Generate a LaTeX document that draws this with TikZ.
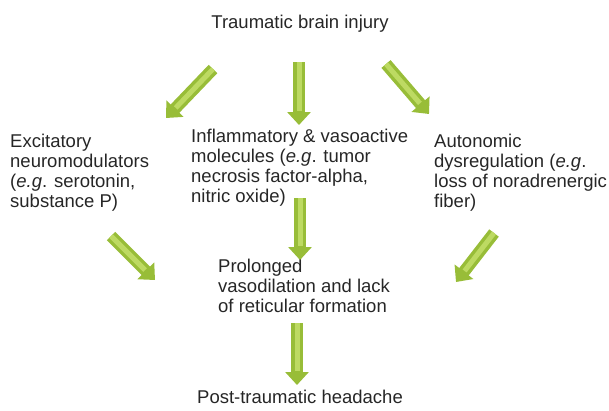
\documentclass[tikz,border=0pt]{standalone}
\usepackage{fontspec}
\setmainfont{Liberation Sans}
\usetikzlibrary{arrows.meta}
\definecolor{tbgreen}{HTML}{98BD38}
\definecolor{tblight}{HTML}{BDDA62}
\definecolor{tbtext}{HTML}{262626}

\begin{document}
\begin{tikzpicture}[x=1pt, y=-1pt,
  txt/.style={inner sep=0pt, align=left, text=tbtext,
              font=\fontsize{18.5}{20}\selectfont},
  flow/.style={draw=tbgreen, line width=12pt,
               -{Triangle[width=23pt,length=13pt]},
               postaction={draw=tblight, line width=5pt, -, shorten >=14pt}}
]
\useasboundingbox (0,0) rectangle (609,410);

% Text blocks
\node[txt, anchor=north] (injury) at (300,15) {Traumatic brain injury};
\node[txt, anchor=north west] (excit) at (10,134)
  {Excitatory\\neuromodulators\\(\emph{e.g}. serotonin,\\substance P)};
\node[txt, anchor=north west] (inflam) at (191,129)
  {Inflammatory \& vasoactive\\molecules (\emph{e.g}. tumor\\necrosis factor-alpha,\\nitric oxide)};
\node[txt, anchor=north west] (auton) at (434,134)
  {Autonomic\\dysregulation (\emph{e.g}.\\loss of noradrenergic\\fiber)};
\node[txt, anchor=north west] (prolong) at (218,259)
  {Prolonged\\vasodilation and lack\\of reticular formation};
\node[txt, anchor=north] (headache) at (300,390) {Post-traumatic headache};

% Arrow ends
\coordinate (inj-l) at (213,69);  \coordinate (exc-t) at (166,118);
\coordinate (inj-m) at (299,62);  \coordinate (inf-t) at (299,125);
\coordinate (inj-r) at (386,64);  \coordinate (aut-t) at (429,114);
\coordinate (exc-b) at (111,236); \coordinate (pro-l) at (155,280);
\coordinate (inf-b) at (300,198); \coordinate (pro-t) at (300,260);
\coordinate (aut-b) at (494,233); \coordinate (pro-r) at (456,282);
\coordinate (pro-b) at (297,323); \coordinate (hea-t) at (297,385);

% Arrows
\draw[flow] (inj-l) -- (exc-t);
\draw[flow] (inj-m) -- (inf-t);
\draw[flow] (inj-r) -- (aut-t);
\draw[flow] (exc-b) -- (pro-l);
\draw[flow] (inf-b) -- (pro-t);
\draw[flow] (aut-b) -- (pro-r);
\draw[flow] (pro-b) -- (hea-t);
\end{tikzpicture}
\end{document}
